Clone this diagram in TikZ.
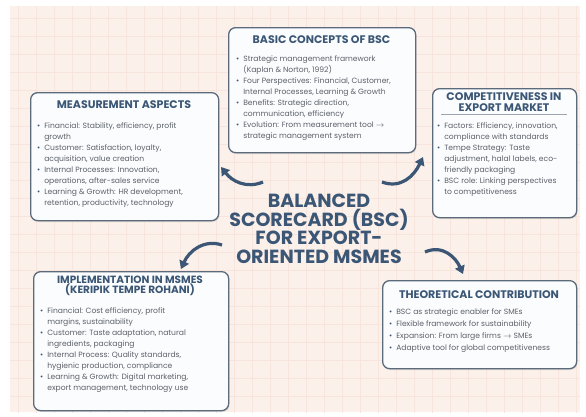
\documentclass[tikz,border=0pt]{standalone}
\usepackage{fontspec}
\setmainfont{Poppins}
\usetikzlibrary{shadows,arrows.meta}

\definecolor{paper}{HTML}{FBF0EA}
\definecolor{gridc}{HTML}{F6E4DD}
\definecolor{ink}{HTML}{3B5775}
\definecolor{frame}{HTML}{5B6B7C}
\definecolor{body}{HTML}{5C6168}
\definecolor{boxfill}{HTML}{FAFCFE}

\newcommand\blist[1]{\begin{tabular}{@{}l@{\hspace{4pt}}l@{}}#1\end{tabular}}
\newcommand\bdot{\textcolor{ink}{\textbullet}}

\tikzset{
  panel/.style={draw=frame, line width=1.3pt, rounded corners=7pt, fill=boxfill,
    drop shadow={opacity=0.18, shadow xshift=0.8pt, shadow yshift=-1.4pt},
    anchor=north west, inner sep=0pt},
  head/.style={font=\bfseries\fontsize{11}{10.5}\selectfont, text=ink, align=center, inner sep=0pt},
  list/.style={anchor=north west, inner sep=0pt, text=body, font=\fontsize{7.6}{11}\selectfont},
  flow/.style={draw=ink, line width=3.2pt, -{Triangle[length=8pt,width=10pt]}},
}

\begin{document}
\begin{tikzpicture}[x=1pt, y=-1pt]
  \useasboundingbox (0,0) rectangle (586,416);
  \fill[white] (0,0) rectangle (586,416);
  % paper background with a faint grid
  \fill[paper] (10,6) rectangle (580,412);
  \begin{scope}
    \clip (10,6) rectangle (580,412);
    \draw[gridc, line width=0.4pt, step=18pt] (0,0) grid (586,416);
  \end{scope}

  % central title
  \node[font=\bfseries\fontsize{19}{18.5}\selectfont, text=ink, align=center, inner sep=0pt]
    (title) at (319,229) {BALANCED\\SCORECARD (BSC)\\FOR EXPORT-\\ORIENTED MSMES};

  % basic concepts
  \node[panel, minimum width=187pt, minimum height=125pt] (basic) at (228,27) {};
  \node[head] (basicH) at (321.5,40) {BASIC CONCEPTS OF BSC};
  \node[list] (basicL) at (236,54) {\blist{
    \bdot & Strategic management framework\\
          & (Kaplan \& Norton, 1992)\\
    \bdot & Four Perspectives: Financial, Customer,\\
          & Internal Processes, Learning \& Growth\\
    \bdot & Benefits: Strategic direction,\\
          & communication, efficiency\\
    \bdot & Evolution: From measurement tool $\rightarrow$\\
          & strategic management system\\}};

  % measurement aspects
  \node[panel, minimum width=188pt, minimum height=128pt] (meas) at (30,92) {};
  \node[head] (measH) at (124,105) {MEASUREMENT ASPECTS};
  \node[list] (measL) at (37,121) {\blist{
    \bdot & Financial: Stability, efficiency, profit\\
          & growth\\
    \bdot & Customer: Satisfaction, loyalty,\\
          & acquisition, value creation\\
    \bdot & Internal Processes: Innovation,\\
          & operations, after-sales service\\
    \bdot & Learning \& Growth: HR development,\\
          & retention, productivity, technology\\}};

  % competitiveness
  \node[panel, minimum width=144pt, minimum height=129pt] (comp) at (432,88) {};
  \node[head] (compH) at (504,102) {COMPETITIVENESS IN\\EXPORT MARKET};
  \coordinate (compA) at (441,114);
  \coordinate (compB) at (567,114);
  \draw[frame!60, line width=0.6pt] (compA) -- (compB);
  \node[list] (compL) at (437,121) {\blist{
    \bdot & Factors: Efficiency, innovation,\\
          & compliance with standards\\
    \bdot & Tempe Strategy: Taste\\
          & adjustment, halal labels, eco-\\
          & friendly packaging\\
    \bdot & BSC role: Linking perspectives\\
          & to competitiveness\\}};

  % implementation
  \node[panel, minimum width=195pt, minimum height=139pt] (impl) at (33,271) {};
  \node[head, font=\bfseries\fontsize{10.5}{10}\selectfont] (implH) at (130,286) {IMPLEMENTATION IN MSMES\\(KERIPIK TEMPE ROHANI)};
  \node[list] (implL) at (40,306) {\blist{
    \bdot & Financial: Cost efficiency, profit\\
          & margins, sustainability\\
    \bdot & Customer: Taste adaptation, natural\\
          & ingredients, packaging\\
    \bdot & Internal Process: Quality standards,\\
          & hygienic production, compliance\\
    \bdot & Learning \& Growth: Digital marketing,\\
          & export management, technology use\\}};

  % theoretical contribution
  \node[panel, minimum width=194pt, minimum height=88pt] (theo) at (382,280) {};
  \node[head] (theoH) at (479,295) {THEORETICAL CONTRIBUTION};
  \node[list, font=\fontsize{7.6}{12}\selectfont] (theoL) at (389,306) {\blist{
    \bdot & BSC as strategic enabler for SMEs\\
    \bdot & Flexible framework for sustainability\\
    \bdot & Expansion: From large firms $\rightarrow$ SMEs\\
    \bdot & Adaptive tool for global competitiveness\\}};

  % curved arrows around the title
  \coordinate (a1s) at (263,182); \coordinate (a1e) at (221,167);
  \coordinate (a2s) at (382,182); \coordinate (a2e) at (423,157);
  \coordinate (a3s) at (222,245); \coordinate (a3e) at (181,269);
  \coordinate (a4s) at (425,252); \coordinate (a4e) at (463,274);
  \draw[flow] (a1s) .. controls (246,189) and (232,181) .. (a1e);
  \draw[flow] (a2s) .. controls (401,189) and (414,176) .. (a2e);
  \draw[flow] (a3s) .. controls (204,239) and (189,251) .. (a3e);
  \draw[flow] (a4s) .. controls (443,244) and (456,258) .. (a4e);
\end{tikzpicture}
\end{document}
